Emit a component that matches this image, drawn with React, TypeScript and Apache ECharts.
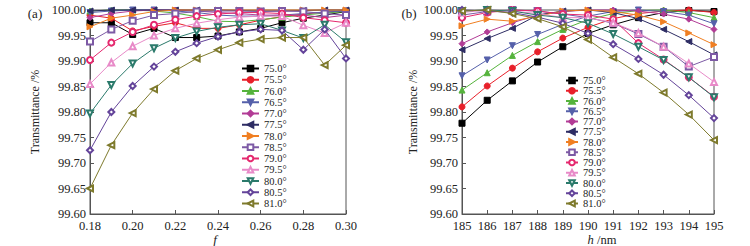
import { useEffect, useRef } from "react";
import * as echarts from "echarts";

const angleNames = ["75.0°", "75.5°", "76.0°", "76.5°", "77.0°", "77.5°", "78.0°", "78.5°", "79.0°", "79.5°", "80.0°", "80.5°", "81.0°"];
const colors = ["#000000", "#e8202a", "#55b33c", "#5560aa", "#b23c96", "#2e2d64", "#f07f22", "#7d5aa5", "#e5286e", "#e88ac8", "#2b7a6b", "#64449a", "#7e7a2c"];
const symbols = ["rect", "circle", "triangle", "triangle", "diamond", "triangle", "triangle", "emptyRect", "emptyCircle", "emptyTriangle", "emptyTriangle", "emptyDiamond", "emptyTriangle"];
const rotations = [0, 0, 0, 180, 0, 90, -90, 0, 0, 0, 180, 0, 90];

const fValues = [0.18, 0.19, 0.2, 0.21, 0.22, 0.23, 0.24, 0.25, 0.26, 0.27, 0.28, 0.29, 0.3];
const hValues = [185, 186, 187, 188, 189, 190, 191, 192, 193, 194, 195];

// Panel (a): transmittance vs f
const a750 = [99.975, 99.975, 99.952, 99.964, 99.946, 99.946, 99.949, 99.957, 99.964, 99.975, 99.984, 99.99, 99.997];
const a755 = [99.99, 99.984, 99.959, 99.968, 99.975, 99.964, 99.964, 99.971, 99.98, 99.987, 99.992, 99.996, 99.998];
const a760 = [99.998, 100, 100, 99.998, 99.994, 99.987, 99.978, 99.977, 99.981, 99.986, 99.99, 99.994, 99.997];
const a765 = [99.995, 99.998, 100, 100, 99.998, 99.995, 99.99, 99.988, 99.988, 99.99, 99.993, 99.996, 99.998];
const a770 = [99.985, 99.993, 99.998, 100, 100, 99.998, 99.995, 99.993, 99.99, 99.99, 99.99, 99.985, 99.99];
const a775 = [99.998, 100, 100, 100, 100, 100, 100, 99.999, 99.998, 99.998, 99.999, 100, 100];
const a780 = [99.967, 99.984, 99.99, 99.997, 100, 100, 100, 100, 100, 100, 100, 100, 100];
const a785 = [99.938, 99.962, 99.979, 99.99, 99.993, 99.997, 99.998, 99.998, 99.997, 99.998, 99.997, 99.993, 99.99];
const a790 = [99.902, 99.936, 99.957, 99.971, 99.981, 99.988, 99.992, 99.995, 99.995, 99.993, 99.985, 99.98, 99.975];
const a795 = [99.855, 99.897, 99.929, 99.95, 99.964, 99.974, 99.981, 99.986, 99.988, 99.988, 99.97, 99.955, 99.975];
const a800 = [99.797, 99.853, 99.895, 99.925, 99.945, 99.958, 99.966, 99.971, 99.973, 99.96, 99.945, 99.971, 99.937];
const a805 = [99.725, 99.8, 99.851, 99.889, 99.918, 99.935, 99.948, 99.957, 99.962, 99.96, 99.922, 99.962, 99.905];
const a810 = [99.65, 99.735, 99.798, 99.845, 99.881, 99.905, 99.922, 99.936, 99.943, 99.946, 99.946, 99.892, 99.931];

// Panel (b): transmittance vs h
const b750 = [99.778, 99.823, 99.861, 99.898, 99.928, 99.954, 99.971, 99.985, 99.995, 99.999, 99.997];
const b755 = [99.81, 99.851, 99.886, 99.918, 99.945, 99.966, 99.983, 99.993, 99.998, 100, 99.995];
const b760 = [99.843, 99.877, 99.911, 99.938, 99.962, 99.981, 99.993, 99.999, 100, 99.995, 99.985];
const b765 = [99.871, 99.902, 99.93, 99.952, 99.972, 99.988, 99.997, 100, 99.997, 99.99, 99.973];
const b770 = [99.934, 99.957, 99.975, 99.99, 99.997, 100, 100, 99.998, 99.992, 99.982, 99.962];
const b775 = [99.922, 99.944, 99.964, 99.99, 99.998, 100, 99.995, 99.983, 99.962, 99.938, 99.912];
const b780 = [99.969, 99.982, 99.978, 99.988, 99.998, 100, 99.997, 99.99, 99.977, 99.955, 99.932];
const b785 = [99.99, 99.997, 100, 99.998, 99.992, 99.985, 99.974, 99.953, 99.928, 99.889, 99.908];
const b790 = [99.985, 99.995, 100, 99.998, 99.992, 99.99, 99.982, 99.935, 99.903, 99.868, 99.83];
const b795 = [99.995, 100, 99.998, 99.993, 99.985, 99.985, 99.975, 99.955, 99.928, 99.895, 99.859];
const b800 = [99.998, 100, 99.998, 99.99, 99.985, 99.974, 99.953, 99.928, 99.902, 99.868, 99.829];
const b805 = [100, 99.998, 99.995, 99.986, 99.974, 99.954, 99.933, 99.904, 99.873, 99.833, 99.788];
const b810 = [99.998, 100, 99.993, 99.983, 99.967, 99.942, 99.907, 99.875, 99.838, 99.795, 99.745];

const seriesA = [a750, a755, a760, a765, a770, a775, a780, a785, a790, a795, a800, a805, a810];
const seriesB = [b750, b755, b760, b765, b770, b775, b780, b785, b790, b795, b800, b805, b810];

const FONT = "'Liberation Serif', 'Times New Roman', serif";

export default function App() {
  const ref = useRef<HTMLDivElement>(null);
  useEffect(() => {
    if (!ref.current) return;
    const chart = echarts.init(ref.current, undefined, { renderer: "svg" });

    const makeSeries = (vals: number[][], xs: number[], axisIndex: number) =>
      vals.map((arr, i) => ({
        type: "line",
        name: angleNames[i],
        xAxisIndex: axisIndex,
        yAxisIndex: axisIndex,
        data: arr.map((v, j) => [xs[j], v]),
        symbol: symbols[i],
        symbolRotate: rotations[i],
        symbolSize: 6,
        showSymbol: true,
        lineStyle: { color: colors[i], width: 1 },
        itemStyle: { color: colors[i], borderColor: colors[i], borderWidth: 1 },
        emphasis: { disabled: true },
        clip: false,
        z: 2 + i,
      }));

    const axisText = { fontFamily: FONT, fontSize: 12.5, color: "#222" };
    const yAxisCommon = (gi: number) => ({
      type: "value",
      gridIndex: gi,
      min: 99.6,
      max: 100.0,
      interval: 0.05,
      axisLine: { show: true, lineStyle: { color: "#555", width: 1 } },
      axisTick: { show: true, inside: true, length: 4, lineStyle: { color: "#555" } },
      splitLine: { show: false },
      axisLabel: { ...axisText, margin: 4, formatter: (v: number) => v.toFixed(2) },
    });

    const legendText = { fontFamily: FONT, fontSize: 10.5, color: "#222" };

    const option: any = {
      animation: false,
      backgroundColor: "#ffffff",
      grid: [
        { left: 90, top: 10, width: 256, height: 204, show: true, borderColor: "#555", borderWidth: 1, containLabel: false },
        { left: 462, top: 10, width: 252, height: 204, show: true, borderColor: "#555", borderWidth: 1, containLabel: false },
      ],
      xAxis: [
        {
          type: "value",
          gridIndex: 0,
          min: 0.18,
          max: 0.3,
          interval: 0.02,
          axisLine: { show: true, onZero: false, lineStyle: { color: "#555", width: 1 } },
          axisTick: { show: true, inside: true, length: 4, lineStyle: { color: "#555" } },
          splitLine: { show: false },
          axisLabel: { ...axisText, margin: 5, formatter: (v: number) => v.toFixed(2) },
        },
        {
          type: "value",
          gridIndex: 1,
          min: 185,
          max: 195,
          interval: 1,
          axisLine: { show: true, onZero: false, lineStyle: { color: "#555", width: 1 } },
          axisTick: { show: true, inside: true, length: 4, lineStyle: { color: "#555" } },
          splitLine: { show: false },
          axisLabel: { ...axisText, margin: 5 },
        },
      ],
      yAxis: [yAxisCommon(0), yAxisCommon(1)],
      legend: [
        {
          orient: "vertical",
          left: 241,
          top: 63,
          padding: 0,
          itemWidth: 17,
          itemHeight: 7,
          itemGap: 0.25,
          data: angleNames,
          selectedMode: false,
          textStyle: legendText,
        },
        {
          orient: "vertical",
          left: 565,
          top: 75,
          padding: 0,
          itemWidth: 12,
          itemHeight: 7,
          itemGap: -0.75,
          data: angleNames,
          selectedMode: false,
          textStyle: legendText,
        },
      ],
      graphic: [
        { type: "text", x: 35, y: 13, style: { text: "(a)", fontFamily: FONT, fontSize: 13, fill: "#222", textAlign: "center", textVerticalAlign: "middle" } },
        { type: "text", x: 409, y: 13, style: { text: "(b)", fontFamily: FONT, fontSize: 13, fill: "#222", textAlign: "center", textVerticalAlign: "middle" } },
        { type: "text", x: 35, y: 112, rotation: Math.PI / 2, style: { text: "Transmittance /%", fontFamily: FONT, fontSize: 12, fill: "#222", textAlign: "center", textVerticalAlign: "middle" } },
        { type: "text", x: 413, y: 112, rotation: Math.PI / 2, style: { text: "Transmittance /%", fontFamily: FONT, fontSize: 12, fill: "#222", textAlign: "center", textVerticalAlign: "middle" } },
        { type: "text", x: 215, y: 239, style: { text: "f", fontFamily: FONT, fontSize: 13, fontStyle: "italic", fill: "#222", textAlign: "center", textVerticalAlign: "middle" } },
        {
          type: "text",
          x: 602,
          y: 239.5,
          style: {
            text: "{i|h} /nm",
            fontFamily: FONT,
            fontSize: 12.5,
            fill: "#222",
            textAlign: "center",
            textVerticalAlign: "middle",
            rich: { i: { fontStyle: "italic", fontFamily: FONT, fontSize: 12.5, fill: "#222" } },
          },
        },
      ],
      series: [...makeSeries(seriesA, fValues, 0), ...makeSeries(seriesB, hValues, 1)],
    };
    chart.setOption(option);
    return () => chart.dispose();
  }, []);
  return <div ref={ref} style={{ position: "absolute", left: 0, top: 0, width: 750, height: 246 }} />;
}
